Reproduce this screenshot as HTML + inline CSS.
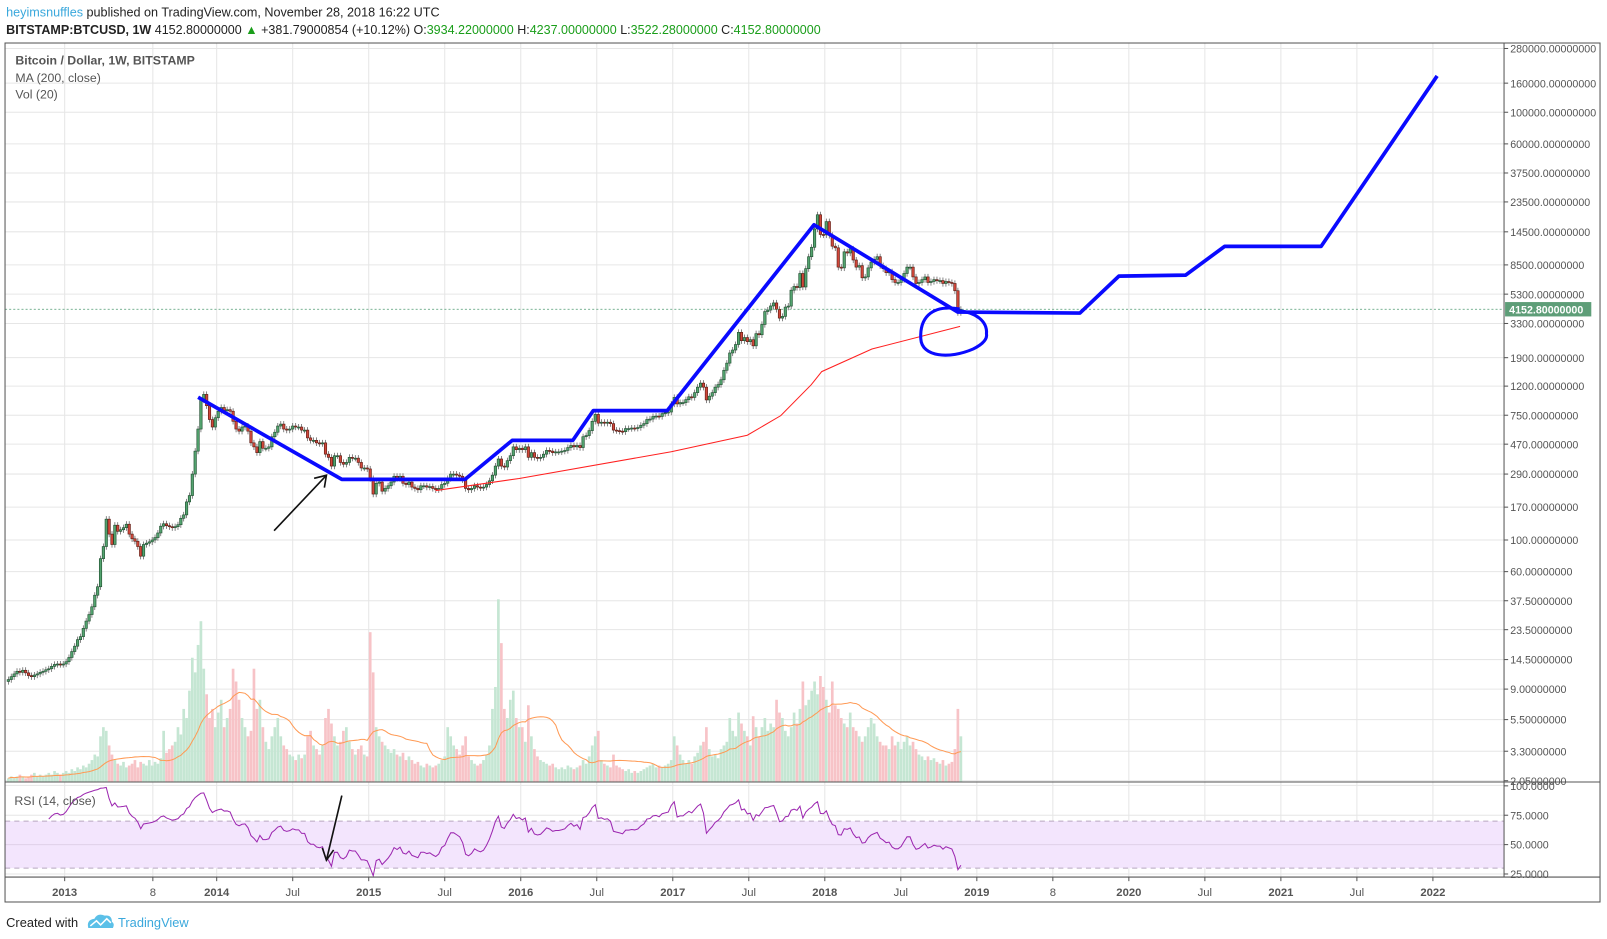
<!DOCTYPE html>
<html><head><meta charset="utf-8"><title>BTCUSD 1W chart</title>
<style>
html,body{margin:0;padding:0;background:#fff;width:1607px;height:939px;overflow:hidden}
svg{display:block}
text{font-family:"Liberation Sans",sans-serif}
.hdr{font-family:"Liberation Sans Narrow","Liberation Sans",sans-serif}
</style></head>
<body>
<svg id="chart" width="1607" height="939" viewBox="0 0 1565.5 914.75" xmlns="http://www.w3.org/2000/svg">
<g>
<text class="hdr" x="6" y="16" font-size="12.3" fill="#222"><tspan fill="#3aa8dc">heyimsnuffles</tspan> published on TradingView.com, November 28, 2018 16:22 UTC</text>
<text class="hdr" x="6" y="33" font-size="12.2" fill="#222"><tspan font-weight="bold">BITSTAMP:BTCUSD, 1W</tspan> 4152.80000000 <tspan fill="#1a9e1a">▲</tspan> +381.79000854 (+10.12%) O:<tspan fill="#1a9e1a">3934.22000000</tspan> H:<tspan fill="#1a9e1a">4237.00000000</tspan> L:<tspan fill="#1a9e1a">3522.28000000</tspan> C:<tspan fill="#1a9e1a">4152.80000000</tspan></text>
</g>
<g id="grid"></g>
<g id="vol"></g>
<g id="candles"></g>
<g id="lines"></g>
<g id="rsi"></g>
<g id="axes"></g>
<g fill="none">
<polyline points="193,387 333,467 453,467 499,429 558,429 578,400 650,400 793,219 933,304 1052,305 1090,269 1155,268 1193,240 1287,240 1400,74" stroke="#0a0aff" stroke-width="3.6" stroke-linejoin="round"/>
<path d="M935,301 C905,296 896,312 897,330 C898,348 925,350 948,340 C958,335 962,330 961,325 C962,313 950,304 935,303" stroke="#0a0aff" stroke-width="3"/>
<line x1="267" y1="517" x2="318" y2="463" stroke="#111" stroke-width="1.6"/>
<polyline points="306,466 318,463 316,475" stroke="#111" stroke-width="1.6"/>
<line x1="333" y1="775" x2="318" y2="838" stroke="#111" stroke-width="1.6"/>
<polyline points="314,826 318,838 325,828" stroke="#111" stroke-width="1.6"/>
</g>
<g fill="#555">
<text class="hdr" x="15" y="63" font-size="12" fill="#555" font-weight="bold">Bitcoin / Dollar, 1W, BITSTAMP</text>
<text class="hdr" x="15" y="80" font-size="12">MA (200, close)</text>
<text class="hdr" x="15" y="96" font-size="12">Vol (20)</text>
<text class="hdr" x="14" y="784" font-size="12">RSI (14, close)</text>
</g>
<g>
<text class="hdr" x="6" y="903" font-size="12.5" fill="#222">Created with</text>
<path d="M86,904 q-2,-8 6,-9 q3,-6 10,-3 q7,-1 7,6 q3,2 1,6 z" fill="#5bc0e8"/>
<polyline points="88,902 94,897 98,901 104,895 108,899" fill="none" stroke="#fff" stroke-width="1.5"/>
<text class="hdr" x="115" y="903" font-size="12.5" fill="#3aa8dc">TradingView</text>
</g>
</svg>
<script>
// ---------- data ----------
const closes2012=[10.5,11,11.5,12,11.8,12.2,11.7,11.2,11,11.3,11.5,11.8,12,12.3,12.5,13,13.4,13.5,13.4,13.5];
const closes2013=[14,15,16.5,18,20, 21,24,27,30, 34,41,47,74,90, 140,110,93,127, 115,118,122,129, 110,102,98,90, 77,93,95,97, 100,104,112,125, 130,126,124,122,124, 128,142,150,185, 205,290,420,600,960, 1050,875,700,620,720];
const closes2014=[800,850,810,820, 800,680,600,580, 620,630,580,480, 450,410,490,440, 440,450,530,570,630, 650,600,590,600, 630,620,620,590, 590,520,500,500,480, 475,480,400,380, 330,390,390,350, 340,350,380,375, 375,350,320,320,315];
const closes2015=[270,210,250,255, 220,230,240,255, 280,270,280,250,245, 255,235,230,225, 240,240,235,237,230, 225,230,245,250, 270,290,290,285, 280,265,230,225,230, 240,235,232,235, 245,260,285,330, 370,330,325,360, 390,450,430,440];
const closes2016=[430,450,380,410,380, 375,380,400,425, 420,410,415,415, 420,425,445,460, 450,460,445,530,540, 585,680,760,660, 670,660,670,655, 590,585,580,575, 605,605,610,608, 615,638,655,700, 705,735,740,735, 770,780,790,900];
const closes2017=[1000,900,920,920,965, 1010,1000,1080,1180, 1260,1180,960,1020, 1080,1180,1230,1330, 1550,1740,2050,2150,2350, 2860,2500,2630,2460, 2540,2300,2800,2750, 3250,4000,4100,4380, 4600,4150,3600,3700,4300, 4370,5650,6000,5900, 7400,5950,8000,9700, 11300,15200,19100,13900,13800];
const closes2018=[17100,13700,11500,11200, 8200,8100,10500,10300, 11000,9200,8200,8400,6900, 7000,8100,8900,9300, 9700,8400,8000,7500, 7600,6700,6400,6400, 6700,7400,8200,8200, 7000,6300,6400,6700,7000, 6400,6500,6700,6600, 6600,6300,6500,6400, 6300,5600,3934,4152.8];
const vol2012=[2,3,2,3,4,3,2,3,4,5,3,4,3,4,5,4,6,5,4,5];
const vol2013=[6,5,7,6,8, 7,9,8,10, 12,15,14,25,30, 28,20,15,12, 10,9,11,8, 9,10,12,8, 11,10,9,12, 9,11,10,13, 28,16,18,20,22, 30,26,40,35, 50,68,60,75,88, 62,48,35,40,30];
const vol2014=[38,45,30,35, 40,62,55,45, 35,30,25,28, 62,40,45,30, 22,18,25,30,35, 25,20,18,15, 14,12,15,13, 15,25,28,20,18, 15,20,35,40, 32,25,20,22, 28,30,22,18, 15,18,20,15,14];
const vol2015=[82,60,30,25, 22,20,18,16, 18,15,14,16,12, 14,12,10,11, 9,8,10,9,8, 9,10,12,14, 30,25,20,18, 15,20,25,14,12, 10,9,10,12, 15,20,40,52, 100,76,40,35, 45,50,35,30];
const vol2016=[30,22,42,25,18, 14,12,11,10, 9,10,8,7, 8,7,9,8, 7,8,9,12,10, 14,20,25,28, 12,10,9,8, 15,9,8,7, 6,7,5,6, 5,6,7,8, 9,10,8,9, 8,9,10,12];
const vol2017=[25,20,15,12,10, 12,10,14,16, 20,22,30,18, 14,15,13,18, 20,22,35,28,25, 38,32,28,25, 20,36,30,25, 30,35,28,32, 30,45,38,35,28, 25,30,38,32, 40,55,42,45, 50,55,48,58,52];
const vol2018=[45,38,55,42, 40,35,32,30, 38,30,28,25,22, 25,30,35,32, 25,22,20,20, 18,25,20,22, 18,22,25,20, 22,18,15,14,12, 14,12,13,11, 10,12,9,10, 11,18,40,25];
const maDates=[2015.44,2015.99,2016.99,2017.49,2017.71,2017.91,2017.98,2018.31,2018.89];
const maValues=[222,270,416,543,745,1225,1518,2184,3148];
const priceTicks=[280000,160000,100000,60000,37500,23500,14500,8500,5300,3300,1900,1200,750,470,290,170,100,60,37.5,23.5,14.5,9,5.5,3.3,2.05];
const rsiTicks=[100,75,50,25];
const timeTickDates=[2013,2013.58,2014,2014.5,2015,2015.5,2016,2016.5,2017,2017.5,2018,2018.5,2019,2019.5,2020,2020.5,2021,2021.5,2022];
const timeTickLabels=["2013","8","2014","Jul","2015","Jul","2016","Jul","2017","Jul","2018","Jul","2019","8","2020","Jul","2021","Jul","2022"];
// ---------- geometry ----------
const L=4.9,R=1558.7,AX=1465.2,TOP=41.9,MAINB=761.8,RSIB=854.4,BOT=878.7;
const xOf=t=>63+(t-2013)*148.1;
const yOf=p=>81+(Math.log10(160000)-Math.log10(p))*138.9;
const yRsi=r=>822.8-(r-50)*1.145;
const volH=v=>v*1.78;
const NS="http://www.w3.org/2000/svg";
function mk(tag,attrs,parent){const e=document.createElementNS(NS,tag);for(const k in attrs)e.setAttribute(k,attrs[k]);parent.appendChild(e);return e;}
const years=[[closes2012,2012.62,0.38],[closes2013,2013,1],[closes2014,2014,1],[closes2015,2015,1],[closes2016,2016,1],[closes2017,2017,1],[closes2018,2018,0.905]];
let closes=[],dates=[];
years.forEach(([arr,y0,span])=>{arr.forEach((c,j)=>{closes.push(c);dates.push(y0+span*(j+0.5)/arr.length);});});
const vols=[].concat(vol2012,vol2013,vol2014,vol2015,vol2016,vol2017,vol2018);
const n=closes.length;
const dateOf=i=>dates[i];
// grid
const grid=document.getElementById('grid');
priceTicks.forEach(p=>{const y=yOf(p);if(y>TOP&&y<MAINB){const l=mk('line',{x1:L,x2:AX,y1:y,y2:y,stroke:'#e6e6e6'},grid);}});
rsiTicks.forEach(r=>{const y=yRsi(r)+(r===100?-0.5:0);const l=mk('line',{x1:L,x2:AX,y1:y,y2:y,stroke:'#e6e6e6'},grid);});
timeTickDates.forEach(t=>{const x=xOf(t);const l=mk('line',{x1:x,x2:x,y1:TOP,y2:RSIB,stroke:'#e6e6e6'},grid);});
// volume
const vg=document.getElementById('vol');
for(let i=0;i<n;i++){const o=i>0?closes[i-1]:closes[i];const up=closes[i]>=o;const x=xOf(dateOf(i));const h=volH(vols[i]||5);
const r=mk('rect',{x:x-1.3,y:MAINB-h,width:2.6,height:h,fill:up?'#c5e6d3':'#f7c3c7'},vg);}
// volume MA 20
let vpts=[];for(let i=0;i<n;i++){const s=Math.max(0,i-19);let sum=0;for(let j=s;j<=i;j++)sum+=vols[j]||5;vpts.push(xOf(dateOf(i)).toFixed(1)+','+(MAINB-volH(sum/(i-s+1))).toFixed(1));}
const lg=document.getElementById('lines');
const vm=mk('polyline',{points:vpts.join(' '),fill:'none',stroke:'#ff9a55','stroke-width':1},lg);
// candles
const cg=document.getElementById('candles');
for(let i=0;i<n;i++){const o=i>0?closes[i-1]:closes[i]*0.97;const c=closes[i];const up=c>=o;const x=xOf(dateOf(i));
const hi=Math.max(o,c)*1.05,lo=Math.min(o,c)*0.95;
const w=mk('line',{x1:x,x2:x,y1:yOf(hi),y2:yOf(lo),stroke:'#555','stroke-width':0.7},cg);
const yt=yOf(Math.max(o,c)),yb=yOf(Math.min(o,c));
const b=mk('rect',{x:x-1.2,y:yt,width:2.4,height:Math.max(1,yb-yt),fill:up?'#53a36f':'#d0473a',stroke:up?'#1e4d2e':'#5a1a12','stroke-width':0.6},cg);}
// MA200
const mpts=maDates.map((t,i)=>xOf(t).toFixed(1)+','+yOf(maValues[i]).toFixed(1));
const ma=mk('polyline',{points:mpts.join(' '),fill:'none',stroke:'#ff2020','stroke-width':1},lg);
// last price line
const lp=mk('line',{x1:L,x2:AX,y1:yOf(4152.8),y2:yOf(4152.8),stroke:'#4e9a72','stroke-dasharray':'2,2','stroke-width':0.8},lg);
// RSI
const rg=document.getElementById('rsi');
const band=mk('rect',{x:L,y:yRsi(70),width:AX-L,height:yRsi(30)-yRsi(70),fill:'#f3e5fd'},rg);
[70,30].forEach(v=>{const l=mk('line',{x1:L,x2:AX,y1:yRsi(v),y2:yRsi(v),stroke:'#b8a8c0','stroke-dasharray':'5,4'},rg);});
const ml=mk('line',{x1:L,x2:AX,y1:yRsi(50),y2:yRsi(50),stroke:'#e0d0e8'},rg);
let ag=0,al=0,rp=[];
for(let i=1;i<n;i++){const d=closes[i]/closes[i-1]-1;const g=Math.max(d,0),ls=Math.max(-d,0);
if(i<=14){ag+=g/14;al+=ls/14;}else{ag=(ag*13+g)/14;al=(al*13+ls)/14;}
if(i>=14){const r=al===0?100:100-100/(1+ag/al);rp.push(xOf(dateOf(i)).toFixed(1)+','+yRsi(Math.min(99,r)).toFixed(1));}}
const rl=mk('polyline',{points:rp.join(' '),fill:'none',stroke:'#9c27b0','stroke-width':1},rg);
// axes & frame
const axg=document.getElementById('axes');
const fr=mk('rect',{x:L,y:TOP,width:R-L,height:BOT-TOP,fill:'none',stroke:'#555'},axg);
const pa=mk('line',{x1:AX,x2:AX,y1:TOP,y2:RSIB,stroke:'#555'},axg);
const s1=mk('line',{x1:L,x2:R,y1:MAINB,y2:MAINB,stroke:'#555'},axg);
const s2=mk('line',{x1:L,x2:R,y1:RSIB,y2:RSIB,stroke:'#555'},axg);
priceTicks.forEach(p=>{const y=yOf(p);
const tk=mk('line',{x1:AX,x2:AX+4,y1:y,y2:y,stroke:'#555'},axg);
const t=mk('text',{x:AX+6,y:y+4,'font-size':10.4,fill:'#555'},axg);t.textContent=p.toFixed(8);});
rsiTicks.forEach(r=>{const y=yRsi(r);
const tk=mk('line',{x1:AX,x2:AX+4,y1:y,y2:y,stroke:'#555'},axg);
const t=mk('text',{x:AX+6,y:y+4,'font-size':10.4,fill:'#555'},axg);t.textContent=r.toFixed(4);});
const lb=mk('rect',{x:AX+1,y:yOf(4152.8)-7,width:84,height:14,fill:'#5e9e78'},axg);
const lt=mk('text',{x:AX+5,y:yOf(4152.8)+4,'font-size':10.4,fill:'#fff','font-weight':'bold'},axg);lt.textContent='4152.80000000';
timeTickDates.forEach((tt,i)=>{const x=xOf(tt);
const tk=mk('line',{x1:x,x2:x,y1:RSIB,y2:RSIB+4,stroke:'#555'},axg);
const isYear=/^\d{4}$/.test(timeTickLabels[i]);
const t=mk('text',{x:x,y:873,'font-size':11,fill:'#555','text-anchor':'middle','font-weight':isYear?'bold':'normal'},axg);t.textContent=timeTickLabels[i];});
</script>
</body></html>
